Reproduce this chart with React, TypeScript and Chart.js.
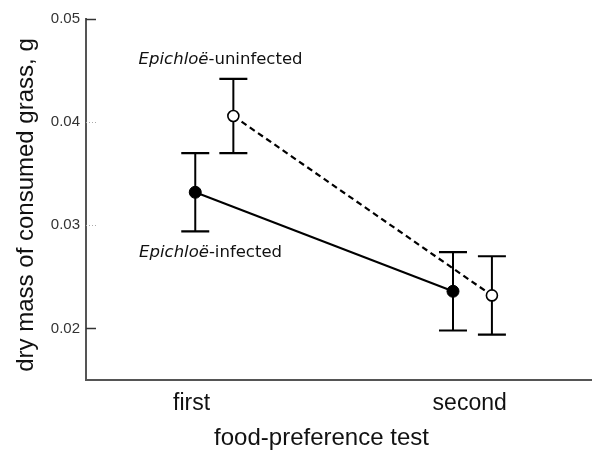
import React, { useEffect, useRef } from "react";
import { Chart, registerables } from "chart.js";

Chart.register(...registerables);

// ---- data ----
const categories = ["first", "second"];
const categoryPositions = [1, 2];
const infectedX = [1.013, 1.94];
const uninfectedX = [1.15, 2.08];
const infectedMean = [0.0332, 0.0236];
const infectedErr = [0.0038, 0.0038];
const uninfectedMean = [0.0406, 0.0232];
const uninfectedErr = [0.0036, 0.0038];
const yTicks = [0.02, 0.03, 0.04, 0.05];
const yTickLabels = ["0.02", "0.03", "0.04", "0.05"];
const annotationItalic = ["Epichloë", "Epichloë"];
const annotationRest = ["-uninfected", "-infected"];
const annotationX = [1.104, 1.068];
const annotationY = [0.0456, 0.02697];

const yTitle = "dry mass of consumed grass, g";
const xTitle = "food-preference test";

const SANS = "'Liberation Sans', Arial, Helvetica, sans-serif";
const ANNO = "'DejaVu Sans', 'Liberation Sans', sans-serif";

const overlay = {
  id: "overlay",
  beforeDatasetsDraw(chart: any) {
    const { ctx, scales } = chart;
    const x = scales.x;
    const y = scales.y;
    chart.data.datasets.forEach((ds: any) => {
      const errs: number[] = ds.errors;
      ds.data.forEach((p: any, j: number) => {
        const px = x.getPixelForValue(p.x);
        const top = y.getPixelForValue(p.y + errs[j]);
        const bot = y.getPixelForValue(p.y - errs[j]);
        ctx.save();
        ctx.strokeStyle = "#000";
        ctx.lineWidth = 2;
        ctx.beginPath();
        ctx.moveTo(px, top);
        ctx.lineTo(px, bot);
        ctx.stroke();
        ctx.lineWidth = 2.2;
        ctx.beginPath();
        ctx.moveTo(px - 14, top);
        ctx.lineTo(px + 14, top);
        ctx.moveTo(px - 14, bot);
        ctx.lineTo(px + 14, bot);
        ctx.stroke();
        ctx.restore();
      });
    });
  },
  afterDraw(chart: any) {
    const { ctx, scales, chartArea } = chart;
    const x = scales.x;
    const y = scales.y;
    ctx.save();
    // inner y tick marks
    yTicks.forEach((v) => {
      const py = Math.round(y.getPixelForValue(v)) + 0.5;
      const strong = v === 0.05 || v === 0.02;
      ctx.beginPath();
      ctx.strokeStyle = strong ? "#333" : "#aaa";
      ctx.lineWidth = strong ? 1.5 : 1;
      ctx.setLineDash(strong ? [] : [1, 2]);
      ctx.moveTo(chartArea.left, py);
      ctx.lineTo(chartArea.left + 10, py);
      ctx.stroke();
    });
    ctx.setLineDash([]);
    // annotations
    ctx.fillStyle = "#111";
    ctx.textBaseline = "alphabetic";
    annotationItalic.forEach((it, i) => {
      ctx.font = `italic 16.5px ${ANNO}`;
      const w1 = ctx.measureText(it).width;
      ctx.font = `16.5px ${ANNO}`;
      const w2 = ctx.measureText(annotationRest[i]).width;
      const cx = x.getPixelForValue(annotationX[i]);
      const by = y.getPixelForValue(annotationY[i]);
      const left = cx - (w1 + w2) / 2;
      ctx.textAlign = "left";
      ctx.font = `italic 16.5px ${ANNO}`;
      ctx.fillText(it, left, by);
      ctx.font = `16.5px ${ANNO}`;
      ctx.fillText(annotationRest[i], left + w1, by);
    });
    // titles
    ctx.fillStyle = "#111";
    ctx.font = `24px ${SANS}`;
    ctx.textAlign = "center";
    ctx.textBaseline = "middle";
    ctx.fillText(xTitle, 321.5, 438);
    ctx.translate(26, 205);
    ctx.rotate(-Math.PI / 2);
    ctx.fillText(yTitle, 0, 0);
    ctx.restore();
  },
};

export default function App() {
  const ref = useRef<HTMLCanvasElement | null>(null);
  useEffect(() => {
    document.body.style.margin = "0";
    if (!ref.current) return;
    const chart = new Chart(ref.current, {
      type: "line",
      data: {
        datasets: [
          {
            label: "infected",
            data: infectedX.map((xv, i) => ({ x: xv, y: infectedMean[i] })),
            errors: infectedErr,
            borderColor: "#000",
            borderWidth: 2,
            backgroundColor: "#000",
            pointBackgroundColor: "#000",
            pointBorderColor: "#000",
            pointBorderWidth: 1,
            pointRadius: 6,
            showLine: true,
            tension: 0,
          } as any,
          {
            label: "uninfected",
            data: uninfectedX.map((xv, i) => ({ x: xv, y: uninfectedMean[i] })),
            errors: uninfectedErr,
            borderColor: "#000",
            borderWidth: 2.2,
            borderDash: [6, 4],
            backgroundColor: "#fff",
            pointBackgroundColor: "#fff",
            pointBorderColor: "#000",
            pointBorderWidth: 1.6,
            pointRadius: 5.5,
            showLine: true,
            tension: 0,
          } as any,
        ],
      },
      options: {
        animation: false,
        responsive: false,
        devicePixelRatio: 1,
        layout: { autoPadding: false, padding: { top: 19, right: 0, left: 0, bottom: 0 } },
        plugins: { legend: { display: false }, tooltip: { enabled: false }, title: { display: false } },
        scales: {
          x: {
            type: "linear",
            min: 0.62,
            max: 2.44,
            afterFit: (s: any) => {
              s.height = 70;
              s.paddingLeft = 0;
              s.paddingRight = 0;
            },
            afterBuildTicks: (s: any) => {
              s.ticks = categoryPositions.map((v) => ({ value: v }));
            },
            ticks: {
              padding: 10,
              color: "#111",
              font: { family: SANS, size: 23 },
              autoSkip: false,
              maxRotation: 0,
              callback: (v: any) => {
                const idx = categoryPositions.indexOf(Number(v));
                return idx >= 0 ? categories[idx] : "";
              },
            },
            grid: { display: false, drawTicks: false },
            border: { display: true, color: "#555", width: 2 },
          },
          y: {
            type: "linear",
            min: 0.015,
            max: 0.05,
            afterFit: (s: any) => {
              s.width = 86;
              s.paddingTop = 0;
              s.paddingBottom = 0;
            },
            afterBuildTicks: (s: any) => {
              s.ticks = yTicks.map((v) => ({ value: v }));
            },
            ticks: {
              padding: 6,
              color: "#333",
              font: { family: SANS, size: 15 },
              callback: (v: any) => {
                const idx = yTicks.indexOf(Number(v));
                return idx >= 0 ? yTickLabels[idx] : "";
              },
            },
            grid: { display: false, drawTicks: false },
            border: { display: true, color: "#555", width: 2 },
          },
        },
      },
      plugins: [overlay],
    } as any);
    return () => chart.destroy();
  }, []);
  return (
    <div style={{ width: 592, height: 450 }}>
      <canvas ref={ref} width={592} height={450} style={{ display: "block", width: 592, height: 450 }} />
    </div>
  );
}
